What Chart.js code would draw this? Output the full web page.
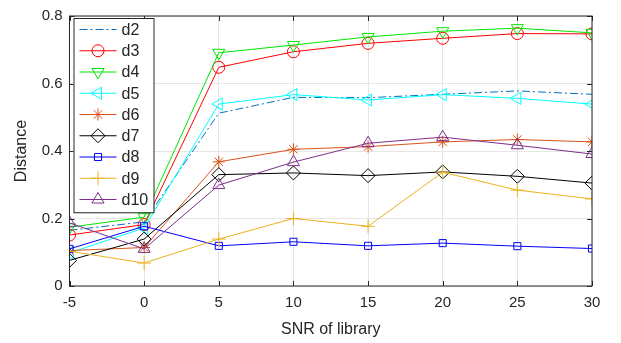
<!DOCTYPE html>
<html lang="en">
<head>
    <meta charset="UTF-8">
    <title>Distance vs SNR of library</title>
    <script src="https://cdn.jsdelivr.net/npm/chart.js"></script>
    <style>
        body {
            margin: 0;
            padding: 0;
            background: #fff;
        }
        canvas {
            display: block;
        }
    </style>
</head>
<body>
    <canvas id="lineChart" width="621" height="343"></canvas>

    <script>
        // Data
        const snr = [-5, 0, 5, 10, 15, 20, 25, 30];
        const xTicks = [-5, 0, 5, 10, 15, 20, 25, 30];
        const yTicks = [0, 0.2, 0.4, 0.6, 0.8];

        const d2  = [0.165, 0.190, 0.512, 0.559, 0.558, 0.568, 0.578, 0.568];
        const d3  = [0.151, 0.182, 0.648, 0.694, 0.719, 0.734, 0.748, 0.747];
        const d4  = [0.174, 0.204, 0.691, 0.714, 0.738, 0.755, 0.764, 0.750];
        const d5  = [0.098, 0.172, 0.539, 0.567, 0.551, 0.567, 0.556, 0.539];
        const d6  = [0.105, 0.114, 0.368, 0.405, 0.413, 0.427, 0.434, 0.427];
        const d7  = [0.076, 0.139, 0.330, 0.335, 0.327, 0.338, 0.325, 0.305];
        const d8  = [0.110, 0.177, 0.119, 0.131, 0.119, 0.127, 0.118, 0.111];
        const d9  = [0.103, 0.068, 0.139, 0.200, 0.177, 0.337, 0.284, 0.258];
        const d10 = [0.187, 0.110, 0.299, 0.367, 0.423, 0.441, 0.417, 0.391];

        const FONT = "'Liberation Sans', Arial, Helvetica, sans-serif";
        const AXIS = "#262626";

        function series(label, values, color, style, rot, radius, dash) {
            return {
                label: label,
                data: values.map((v, i) => ({ x: snr[i], y: v })),
                borderColor: color,
                backgroundColor: "rgba(0,0,0,0)",
                borderWidth: 1,
                borderDash: dash || [],
                pointStyle: style,
                rotation: rot,
                pointRadius: radius,
                pointBorderColor: color,
                pointBackgroundColor: "rgba(0,0,0,0)",
                pointBorderWidth: 1,
                fill: false,
                tension: 0
            };
        }

        const datasets = [
            series("d2", d2, "#0072BD", false, 0, 0, [8, 3, 2, 3]),
            series("d3", d3, "#ff0000", "circle", 0, 6),
            series("d4", d4, "#00e600", "triangle", 180, 7),
            series("d5", d5, "#00ffff", "triangle", 270, 7),
            series("d6", d6, "#D95319", "star", 0, 6),
            series("d7", d7, "#000000", "rectRot", 0, 7),
            series("d8", d8, "#0000ff", "rect", 0, 5),
            series("d9", d9, "#EDB120", "cross", 0, 7),
            series("d10", d10, "#7E2F8E", "triangle", 0, 7)
        ];
        // later series on top, like the original plot
        datasets.forEach((ds, i) => { ds.order = datasets.length - i; });

        function drawMarker(ctx, ds, x, y) {
            if (!ds.pointStyle) return;
            ctx.save();
            ctx.strokeStyle = ds.pointBorderColor;
            ctx.fillStyle = ds.pointBackgroundColor;
            ctx.lineWidth = ds.pointBorderWidth;
            Chart.helpers.drawPoint(ctx, {
                pointStyle: ds.pointStyle,
                rotation: ds.rotation,
                radius: ds.pointRadius,
                borderWidth: ds.pointBorderWidth
            }, x, y);
            ctx.restore();
        }

        // axes box, inward ticks and the legend inside the plot
        const framePlugin = {
            id: "frame",
            afterDraw(chart) {
                const ctx = chart.ctx;
                const a = chart.chartArea;
                const xs = chart.scales.x, ys = chart.scales.y;
                ctx.save();
                ctx.strokeStyle = AXIS;
                ctx.lineWidth = 1;
                ctx.strokeRect(a.left, a.top, a.right - a.left, a.bottom - a.top);
                ctx.beginPath();
                xTicks.forEach(t => {
                    const px = Math.round(xs.getPixelForValue(t)) + 0.5;
                    ctx.moveTo(px, a.bottom); ctx.lineTo(px, a.bottom - 5);
                    ctx.moveTo(px, a.top); ctx.lineTo(px, a.top + 5);
                });
                yTicks.forEach(t => {
                    const py = Math.round(ys.getPixelForValue(t)) + 0.5;
                    ctx.moveTo(a.left, py); ctx.lineTo(a.left + 5, py);
                    ctx.moveTo(a.right, py); ctx.lineTo(a.right - 5, py);
                });
                ctx.stroke();

                // legend
                const lx = a.left + 4, ly = a.top + 2, lw = 80, rowH = 21.25;
                const lh = rowH * datasets.length + 3;
                ctx.fillStyle = "#fff";
                ctx.fillRect(lx, ly, lw, lh);
                ctx.strokeStyle = AXIS;
                ctx.strokeRect(lx + 0.5, ly + 0.5, lw, lh);
                ctx.font = "16px " + FONT;
                ctx.textBaseline = "middle";
                datasets.forEach((ds, i) => {
                    const cy = ly + 11.5 + i * rowH;
                    ctx.save();
                    ctx.strokeStyle = ds.borderColor;
                    ctx.lineWidth = 1;
                    ctx.setLineDash(ds.borderDash);
                    ctx.beginPath();
                    ctx.moveTo(lx + 6, cy);
                    ctx.lineTo(lx + 43, cy);
                    ctx.stroke();
                    ctx.restore();
                    drawMarker(ctx, ds, lx + 24.5, cy);
                    ctx.fillStyle = AXIS;
                    ctx.fillText(ds.label, lx + 48, cy + 1);
                });
                ctx.restore();
            }
        };

        const ctx = document.getElementById("lineChart").getContext("2d");
        new Chart(ctx, {
            type: "line",
            data: { datasets: datasets },
            options: {
                responsive: false,
                animation: false,
                layout: { padding: { left: 0, right: 29, top: 11, bottom: 0 } },
                plugins: {
                    legend: { display: false },
                    tooltip: { enabled: false }
                },
                scales: {
                    x: {
                        type: "linear",
                        min: -5,
                        max: 30,
                        afterBuildTicks: s => { s.ticks = xTicks.map(v => ({ value: v })); },
                        afterFit: s => { s.height = 57; },
                        grid: { color: "#e6e6e6", drawTicks: false },
                        border: { display: false },
                        ticks: {
                            color: AXIS,
                            padding: 8,
                            maxRotation: 0,
                            font: { family: FONT, size: 15 }
                        },
                        title: {
                            display: true,
                            text: "SNR of library",
                            color: AXIS,
                            padding: { top: 2, bottom: 4 },
                            font: { family: FONT, size: 16 }
                        }
                    },
                    y: {
                        type: "linear",
                        min: 0,
                        max: 0.8,
                        afterBuildTicks: s => { s.ticks = yTicks.map(v => ({ value: v })); },
                        afterFit: s => { s.width = 69.5; },
                        grid: { color: "#e6e6e6", drawTicks: false },
                        border: { display: false },
                        ticks: {
                            color: AXIS,
                            padding: 7,
                            font: { family: FONT, size: 15 },
                            callback: v => String(Math.round(v * 10) / 10)
                        },
                        title: {
                            display: true,
                            text: "Distance",
                            color: AXIS,
                            padding: { top: 12, bottom: 6 },
                            font: { family: FONT, size: 16 }
                        }
                    }
                }
            },
            plugins: [framePlugin]
        });
    </script>
</body>
</html>
